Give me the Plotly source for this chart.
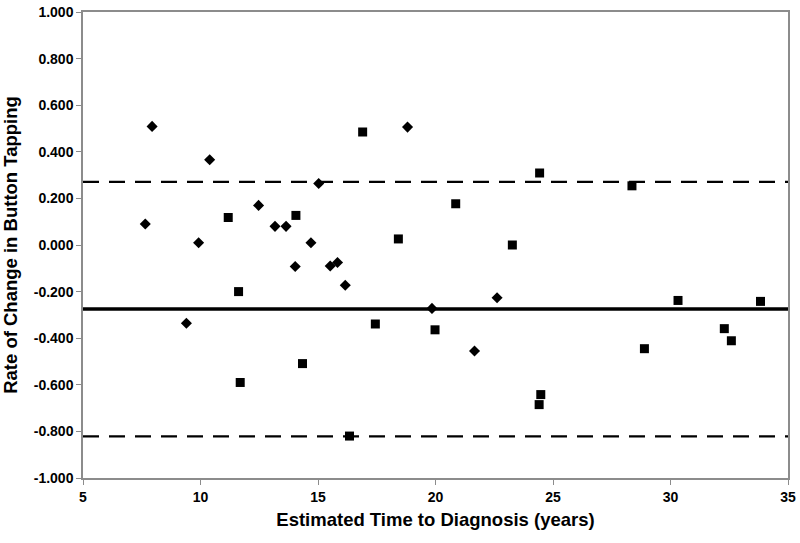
import plotly.graph_objects as go

# Series 1 (diamonds)
diamond_x = [7.65, 7.94, 9.40, 9.92, 10.39, 12.47, 13.17, 13.64, 14.03, 14.70,
             15.03, 15.52, 15.83, 16.16, 18.81, 19.85, 21.66, 22.62]
diamond_y = [0.090, 0.509, -0.336, 0.010, 0.366, 0.170, 0.080, 0.080, -0.092, 0.010,
             0.264, -0.090, -0.075, -0.173, 0.506, -0.272, -0.455, -0.226]

# Series 2 (squares)
square_x = [11.18, 11.62, 11.69, 14.06, 14.34, 16.34, 16.90, 17.44, 18.42, 19.98,
            20.86, 23.27, 24.43, 24.48, 24.41, 28.36, 28.89, 30.32, 32.29, 32.59, 33.83]
square_y = [0.118, -0.200, -0.590, 0.127, -0.509, -0.820, 0.485, -0.339, 0.026, -0.364,
            0.177, 0.000, 0.309, -0.642, -0.685, 0.254, -0.445, -0.238, -0.359, -0.411, -0.242]

# Reference lines: mean and limits
mean_line = -0.275
upper_limit = 0.271
lower_limit = -0.821
line_x = [5, 35]

x_tickvals = [5, 10, 15, 20, 25, 30, 35]
x_ticktext = ["5", "10", "15", "20", "25", "30", "35"]
y_tickvals = [-1.0, -0.8, -0.6, -0.4, -0.2, 0.0, 0.2, 0.4, 0.6, 0.8, 1.0]
y_ticktext = ["-1.000", "-0.800", "-0.600", "-0.400", "-0.200", "0.000",
              "0.200", "0.400", "0.600", "0.800", "1.000"]

fig = go.Figure()

fig.add_trace(go.Scatter(x=line_x, y=[upper_limit, upper_limit], mode="lines",
                         line=dict(color="black", width=2.2, dash="16px,10px"),
                         hoverinfo="skip", showlegend=False))
fig.add_trace(go.Scatter(x=line_x, y=[lower_limit, lower_limit], mode="lines",
                         line=dict(color="black", width=2.2, dash="16px,10px"),
                         hoverinfo="skip", showlegend=False))
fig.add_trace(go.Scatter(x=line_x, y=[mean_line, mean_line], mode="lines",
                         line=dict(color="black", width=3.5),
                         hoverinfo="skip", showlegend=False))

fig.add_trace(go.Scatter(x=diamond_x, y=diamond_y, mode="markers",
                         marker=dict(symbol="diamond", size=8.5, color="black"),
                         showlegend=False))
fig.add_trace(go.Scatter(x=square_x, y=square_y, mode="markers",
                         marker=dict(symbol="square", size=9, color="black"),
                         showlegend=False))

axis_font = dict(family="Liberation Sans, Arial, sans-serif", size=14, color="black")
title_font = dict(family="Liberation Sans, Arial, sans-serif", size=18.5, color="black")

fig.update_layout(
    width=800, height=543,
    margin=dict(l=83, r=12, t=12, b=65),
    paper_bgcolor="white", plot_bgcolor="white",
    xaxis=dict(
        range=[5, 35], tickvals=x_tickvals, ticktext=x_ticktext,
        showgrid=False, zeroline=False, automargin=False,
        showline=True, mirror=True, linecolor="#8c8c8c", linewidth=1.5,
        ticks="outside", ticklen=5, tickcolor="#8c8c8c", tickwidth=1,
        tickfont=dict(axis_font, weight="bold"),
        title=dict(text="<b>Estimated Time to Diagnosis (years)</b>", font=title_font, standoff=10),
    ),
    yaxis=dict(
        range=[-1, 1], tickvals=y_tickvals, ticktext=y_ticktext,
        showgrid=False, zeroline=False, automargin=False,
        showline=True, mirror=True, linecolor="#8c8c8c", linewidth=1.5,
        ticks="outside", ticklen=5, tickcolor="#8c8c8c", tickwidth=1,
        tickfont=dict(axis_font, weight="bold"),
        title=dict(text="<b>Rate of Change in Button Tapping</b>", font=title_font, standoff=12),
    ),
)

fig.write_html("out.html", config={"displayModeBar": False},
               post_script="document.body.style.margin='0';document.body.style.padding='0';")
